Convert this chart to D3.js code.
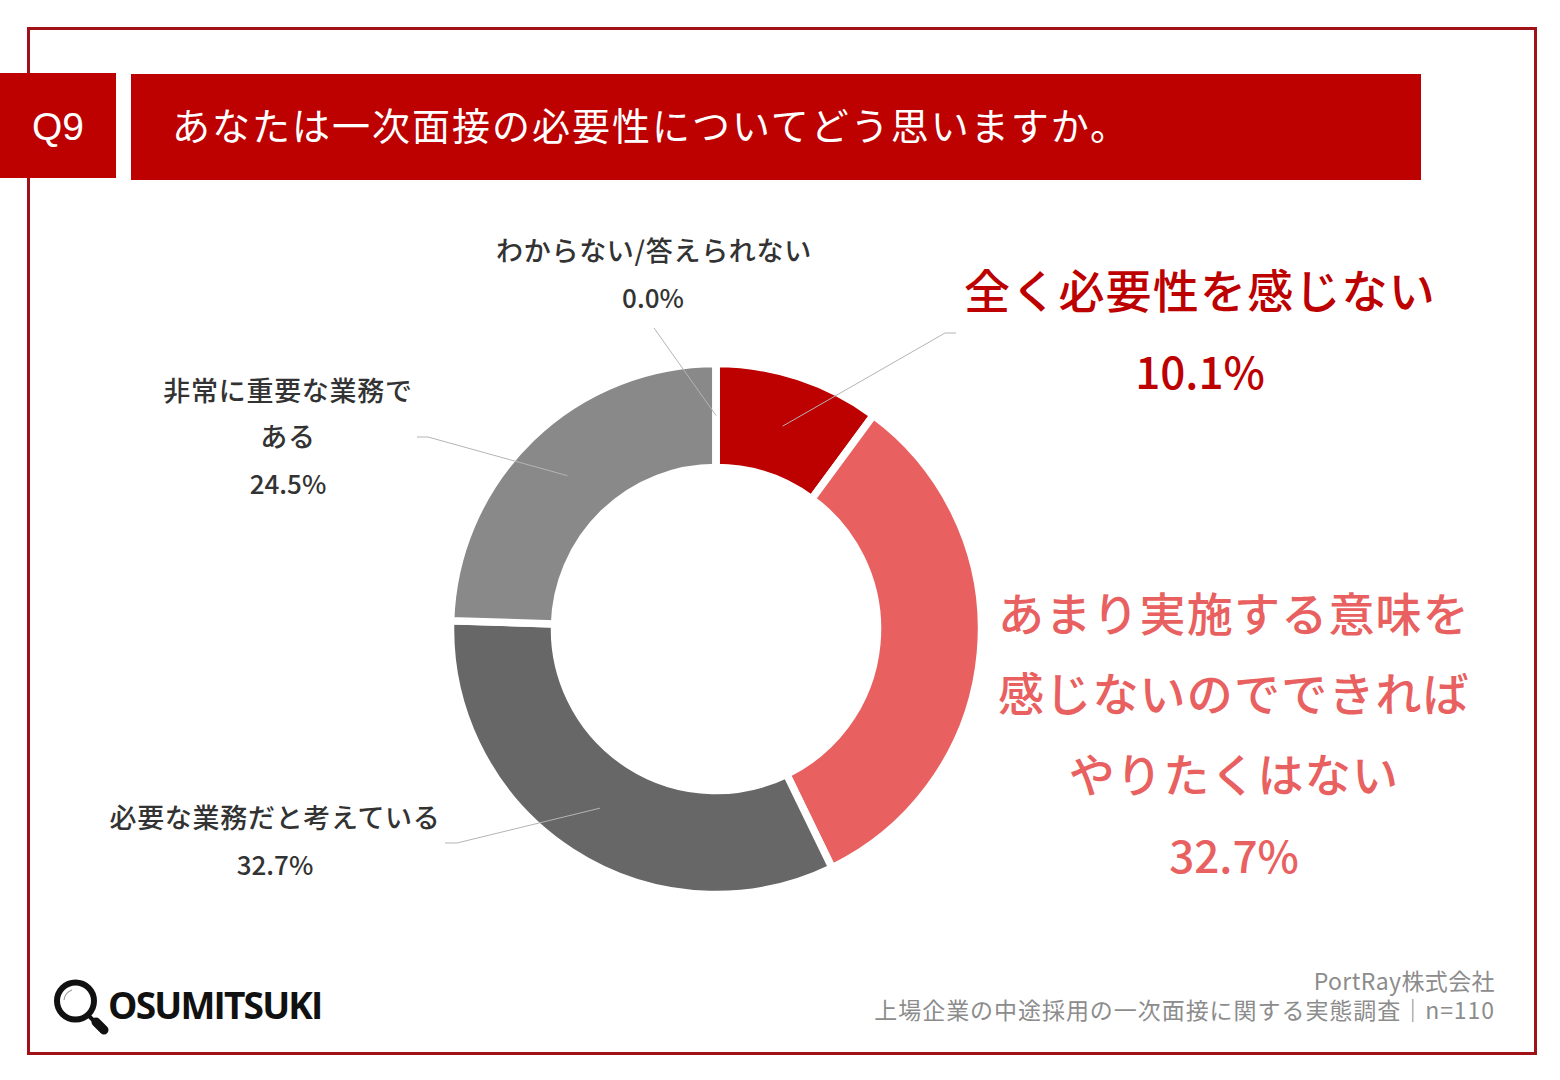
<!DOCTYPE html>
<html>
<head>
<meta charset="utf-8" />
<script src="https://d3js.org/d3.v7.min.js"></script>
<style>
  html, body { margin: 0; padding: 0; background: #fff; }
  text { font-family: "Noto Sans CJK JP", sans-serif; }
</style>
</head>
<body>
<div id="my_dataviz"></div>
<script>
  // data
  const categories = [
    '全く必要性を感じない',
    'あまり実施する意味を感じないのでできればやりたくはない',
    '必要な業務だと考えている',
    '非常に重要な業務である',
    'わからない/答えられない'
  ];
  const shares = [10.1, 32.7, 32.7, 24.5, 0.0];
  const sliceColors = ['#bd0000', '#e86060', '#676767', '#898989', '#bfbfbf'];

  const width = 1560, height = 1080;
  const red = '#bd0000', frame = '#a01218', ink = '#333333';

  const svg = d3.select('#my_dataviz').append('svg')
    .attr('width', width).attr('height', height)
    .style('display', 'block');

  // outer frame
  svg.append('rect')
    .attr('x', 28.5).attr('y', 28.5)
    .attr('width', 1507).attr('height', 1025)
    .attr('fill', 'none').attr('stroke', frame).attr('stroke-width', 3);

  // header
  svg.append('rect').attr('x', 0).attr('y', 73).attr('width', 116).attr('height', 105).attr('fill', red);
  svg.append('rect').attr('x', 131).attr('y', 74).attr('width', 1290).attr('height', 106).attr('fill', red);
  svg.append('text').attr('x', 58).attr('y', 140).attr('text-anchor', 'middle')
    .style('font-family', '"Liberation Sans", sans-serif')
    .style('font-size', '39px').attr('fill', '#fff').text('Q9');
  svg.append('text').attr('x', 172).attr('y', 140)
    .style('font-size', '38px').style('letter-spacing', '2px').attr('fill', '#fff')
    .text('あなたは一次面接の必要性についてどう思いますか。');

  // donut
  const cx = 716, cy = 629, outer = 265.5, inner = 161.5;
  const pie = d3.pie().sort(null).value(d => d)(shares);
  const arc = d3.arc().innerRadius(inner).outerRadius(outer);
  const donut = svg.append('g').attr('transform', `translate(${cx},${cy})`);

  donut.selectAll('path')
    .data(pie)
    .join('path')
    .attr('d', arc)
    .attr('fill', (d, i) => sliceColors[i])
    .attr('stroke', '#fff')
    .attr('stroke-width', 7.5)
    .attr('stroke-linejoin', 'miter');

  // leader lines run from the middle of each slice to its label
  const leaderEnds = [
    [[945, 333], [956, 333]],
    null,
    [[457, 843], [445, 843]],
    [[428, 437], [417, 437]],
    [[654, 328]]
  ];
  pie.forEach((d, i) => {
    if (!leaderEnds[i]) return;
    const c = arc.centroid(d);
    const pts = [[cx + c[0], cy + c[1]]].concat(leaderEnds[i]);
    svg.append('path')
      .attr('d', d3.line()(pts))
      .attr('fill', 'none')
      .attr('stroke', '#b4b4b4')
      .attr('stroke-width', 1);
  });

  // labels
  function label(x, lines, size, spacing, color, weight) {
    svg.append('g').selectAll('text')
      .data(lines)
      .join('text')
      .attr('x', x)
      .attr('y', d => d.y)
      .attr('text-anchor', 'middle')
      .style('font-size', size + 'px')
      .style('letter-spacing', spacing + 'px')
      .style('font-weight', weight)
      .attr('fill', color)
      .text(d => d.t);
  }

  const pct = i => shares[i].toFixed(1) + '%';

  label(1200, [{ t: categories[0], y: 308 }], 46, 1.2, red, 500);
  label(1200, [{ t: pct(0), y: 389 }], 44, 0, red, 500);
  label(1234, [
    { t: 'あまり実施する意味を', y: 631 },
    { t: '感じないのでできれば', y: 711 },
    { t: 'やりたくはない', y: 792 }
  ], 46, 1.2, sliceColors[1], 500);
  label(1234, [{ t: pct(1), y: 873 }], 44, 0, sliceColors[1], 500);

  label(275, [{ t: categories[2], y: 828 }], 27, 0.7, ink, 500);
  label(275, [{ t: pct(2), y: 875 }], 26, 0, ink, 500);
  label(288, [
    { t: '非常に重要な業務で', y: 401 },
    { t: 'ある', y: 447 }
  ], 27, 0.7, ink, 500);
  label(288, [{ t: pct(3), y: 494 }], 26, 0, ink, 500);
  label(654, [{ t: categories[4], y: 261 }], 27, 0.7, ink, 500);
  label(653, [{ t: pct(4), y: 308 }], 26, 0, ink, 500);

  // source, two lines of one text
  const source = svg.append('text').attr('text-anchor', 'end')
    .style('font-size', '23px').attr('fill', '#8c8c8c');
  source.append('tspan').attr('x', 1495).attr('y', 990)
    .style('letter-spacing', '0.4px').text('PortRay株式会社');
  source.append('tspan').attr('x', 1495).attr('y', 1019)
    .style('letter-spacing', '0.95px').text('上場企業の中途採用の一次面接に関する実態調査｜n=110');

  // logo
  const logo = svg.append('g').attr('fill', 'none').attr('stroke', '#111');
  logo.append('circle').attr('cx', 75.5).attr('cy', 1001).attr('r', 18.5).attr('stroke-width', 6);
  logo.append('path').attr('d', 'M64,1000A12,12 0 0 1 72,990').attr('stroke-width', 1.2).attr('stroke', '#999');
  logo.append('path').attr('d', 'M89,1016L94,1021').attr('stroke-width', 4);
  logo.append('path').attr('d', 'M96,1022L104,1030').attr('stroke-width', 9).attr('stroke-linecap', 'round');
  svg.append('text').attr('x', 108).attr('y', 1019)
    .style('font-family', '"Open Sans", sans-serif')
    .style('font-weight', 700).style('font-size', '37px').style('letter-spacing', '-1.8px')
    .attr('fill', '#111').text('OSUMITSUKI');
</script>
</body>
</html>
